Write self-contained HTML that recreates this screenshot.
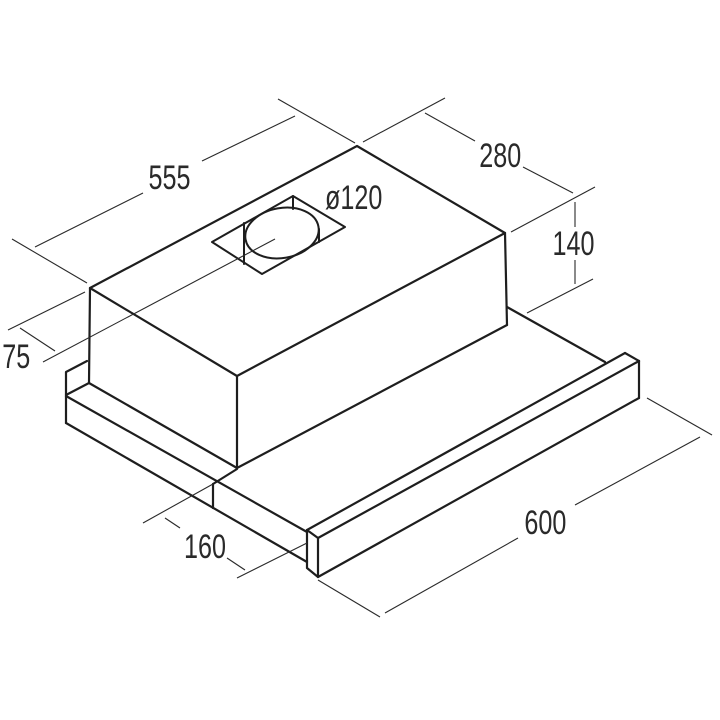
<!DOCTYPE html>
<html><head><meta charset="utf-8"><style>
html,body{margin:0;padding:0;background:#fff;width:720px;height:720px;overflow:hidden}
text{font-family:"Liberation Sans",sans-serif;font-size:34px;fill:#2a2a2a}
</style></head><body>
<svg width="720" height="720" viewBox="0 0 720 720" xmlns="http://www.w3.org/2000/svg">
<g fill="none" stroke="#1e1e1e" stroke-width="2.2" stroke-linejoin="round" stroke-linecap="round">
<polygon points="90,288 357,146 505,233 237,376"/>
<line x1="90" y1="288" x2="89" y2="383"/>
<line x1="237" y1="376" x2="237" y2="468"/>
<line x1="505" y1="233" x2="507" y2="325"/>
<line x1="89" y1="383" x2="237" y2="468"/>
<line x1="237" y1="468" x2="507" y2="325"/>
<polyline points="87,361 66,372 66,423"/>
<line x1="66" y1="395" x2="89" y2="383"/>
<line x1="66" y1="396" x2="307" y2="532"/>
<line x1="66" y1="423" x2="307" y2="562"/>
<line x1="213" y1="484" x2="213" y2="508"/>
<line x1="213" y1="484" x2="237" y2="469"/>
<line x1="507" y1="307" x2="605" y2="362"/>
<polyline points="307,568 307,530 318,538 318,577 307,568"/>
<line x1="307" y1="530" x2="625" y2="353"/>
<line x1="625" y1="353" x2="639" y2="361"/>
<line x1="318" y1="538" x2="639" y2="361"/>
<line x1="639" y1="361" x2="639" y2="398"/>
<line x1="318" y1="577" x2="639" y2="398"/>
<polygon points="212,242 293,196 345,227 262,274" stroke-width="2"/>
<ellipse cx="282" cy="233" rx="37" ry="25" transform="rotate(-10 282 233)" stroke-width="2"/>
<line x1="293" y1="196" x2="293" y2="209" stroke-width="2"/>
<line x1="244" y1="223" x2="244" y2="264" stroke-width="2"/>
<line x1="319" y1="229" x2="319" y2="242" stroke-width="2"/>
</g>
<g fill="none" stroke="#2a2a2a" stroke-width="1.1">
<line x1="12" y1="239" x2="87" y2="283"/>
<line x1="278" y1="99" x2="355" y2="143"/>
<line x1="35" y1="247" x2="143" y2="193"/>
<line x1="202" y1="161" x2="295" y2="116"/>
<line x1="363" y1="142" x2="445" y2="98"/>
<line x1="511" y1="232" x2="595" y2="187"/>
<line x1="425" y1="113" x2="475" y2="141"/>
<line x1="523" y1="167" x2="573" y2="193"/>
<line x1="575" y1="202" x2="575" y2="227"/>
<line x1="575" y1="260" x2="575" y2="284"/>
<line x1="527" y1="313" x2="593" y2="279"/>
<line x1="8" y1="330" x2="85" y2="292"/>
<line x1="43" y1="362" x2="275" y2="239"/>
<line x1="20" y1="328" x2="55" y2="351"/>
<line x1="143" y1="523" x2="213" y2="484"/>
<line x1="237" y1="578" x2="307" y2="543"/>
<line x1="165" y1="518" x2="180" y2="528"/>
<line x1="227" y1="558" x2="245" y2="570"/>
<line x1="647" y1="398" x2="712" y2="435"/>
<line x1="318" y1="580" x2="380" y2="617"/>
<line x1="385" y1="613" x2="518" y2="538"/>
<line x1="575" y1="505" x2="700" y2="437"/>
</g>
<g transform="scale(0.74 1)">
<text x="229" y="189" text-anchor="middle">555</text>
<text x="676" y="167" text-anchor="middle">280</text>
<text x="775" y="255" text-anchor="middle">140</text>
<text x="22" y="368" text-anchor="middle">75</text>
<text x="277" y="558" text-anchor="middle">160</text>
<text x="737" y="534" text-anchor="middle">600</text>
<text x="478" y="209" text-anchor="middle">ø120</text>
</g>
</svg>
</body></html>
